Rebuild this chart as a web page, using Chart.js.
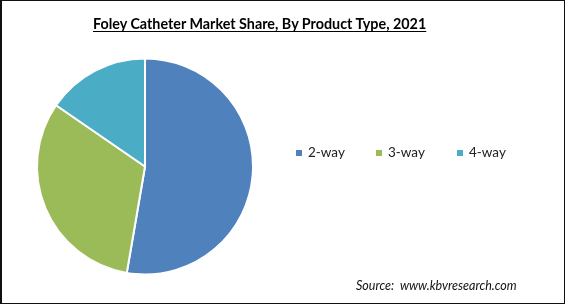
<!DOCTYPE html>
<html>
<head>
<meta charset="utf-8">
<script src="https://cdn.jsdelivr.net/npm/chart.js@4"></script>
<style>
  html, body { margin: 0; padding: 0; background: #fff; }
  #wrap { position: relative; width: 565px; height: 304px; box-sizing: border-box; border: 1px solid #111; border-left-width: 2px; overflow: hidden; background: #fff; }
  #c { position: absolute; left: -2px; top: -1px; }
  .t { position: absolute; white-space: pre; font-family: Lato, "Open Sans", sans-serif; color: #000; }
  #title { font-weight: bold; text-decoration: underline; text-underline-offset: 2px; }
  .leg { font-size: 13.5px; color: #222; }
  .mk { position: absolute; width: 6px; height: 6px; }
  #src { font-style: italic; color: #111; }
</style>
</head>
<body>
<div id="wrap">
  <canvas id="c" width="565" height="304"></canvas>
  <div id="title" class="t"></div>
  <div id="src" class="t"></div>
</div>
<script>
const titleText = "Foley Catheter Market Share, By Product Type, 2021";
const categories = ["2-way", "3-way", "4-way"];
const shares = [52.7, 31.9, 15.4];
const colors = ["#4F81BD", "#9BBB59", "#4BACC6"];
const sourceText = "Source:  www.kbvresearch.com";

const wrap = document.getElementById('wrap');
const OX = 2, OY = 1;
const fam = 'Lato, "Open Sans", sans-serif';
const mctx = document.createElement('canvas').getContext('2d');
function fitSize(text, style, target) {
  mctx.font = style + ' 16px ' + fam;
  return 16 * target / mctx.measureText(text).width;
}

// Title fitted to target width
const title = document.getElementById('title');
title.textContent = titleText;
const ts = fitSize(titleText, 'bold', 335);
title.style.fontSize = ts + 'px';
title.style.left = (93 - OX) + 'px';
title.style.top = (24 - OY - ts * 0.62) + 'px';

// Legend
const legX = [296, 376, 457];
categories.forEach((c, i) => {
  const m = document.createElement('div');
  m.className = 'mk';
  m.style.background = colors[i];
  m.style.left = (legX[i] - OX) + 'px';
  m.style.top = (150 - OY) + 'px';
  wrap.appendChild(m);
  const t = document.createElement('div');
  t.className = 't leg';
  t.textContent = c;
  t.style.left = (legX[i] + 12 - OX) + 'px';
  t.style.top = (144 - OY) + 'px';
  wrap.appendChild(t);
});

// Source fitted to target width
const src = document.getElementById('src');
src.textContent = sourceText;
const ss = fitSize(sourceText, 'italic', 161);
src.style.fontSize = ss + 'px';
src.style.left = (356 - OX) + 'px';
src.style.top = (286 - OY - ss * 0.62) + 'px';

new Chart(document.getElementById('c'), {
  type: 'pie',
  data: {
    labels: categories,
    datasets: [{
      data: shares,
      backgroundColor: colors,
      borderColor: '#ffffff',
      borderWidth: 2
    }]
  },
  options: {
    responsive: false,
    animation: false,
    layout: { padding: { left: 36, top: 57, right: 311, bottom: 28 } },
    plugins: { legend: { display: false }, tooltip: { enabled: false }, title: { display: false } }
  }
});
</script>
</body>
</html>
